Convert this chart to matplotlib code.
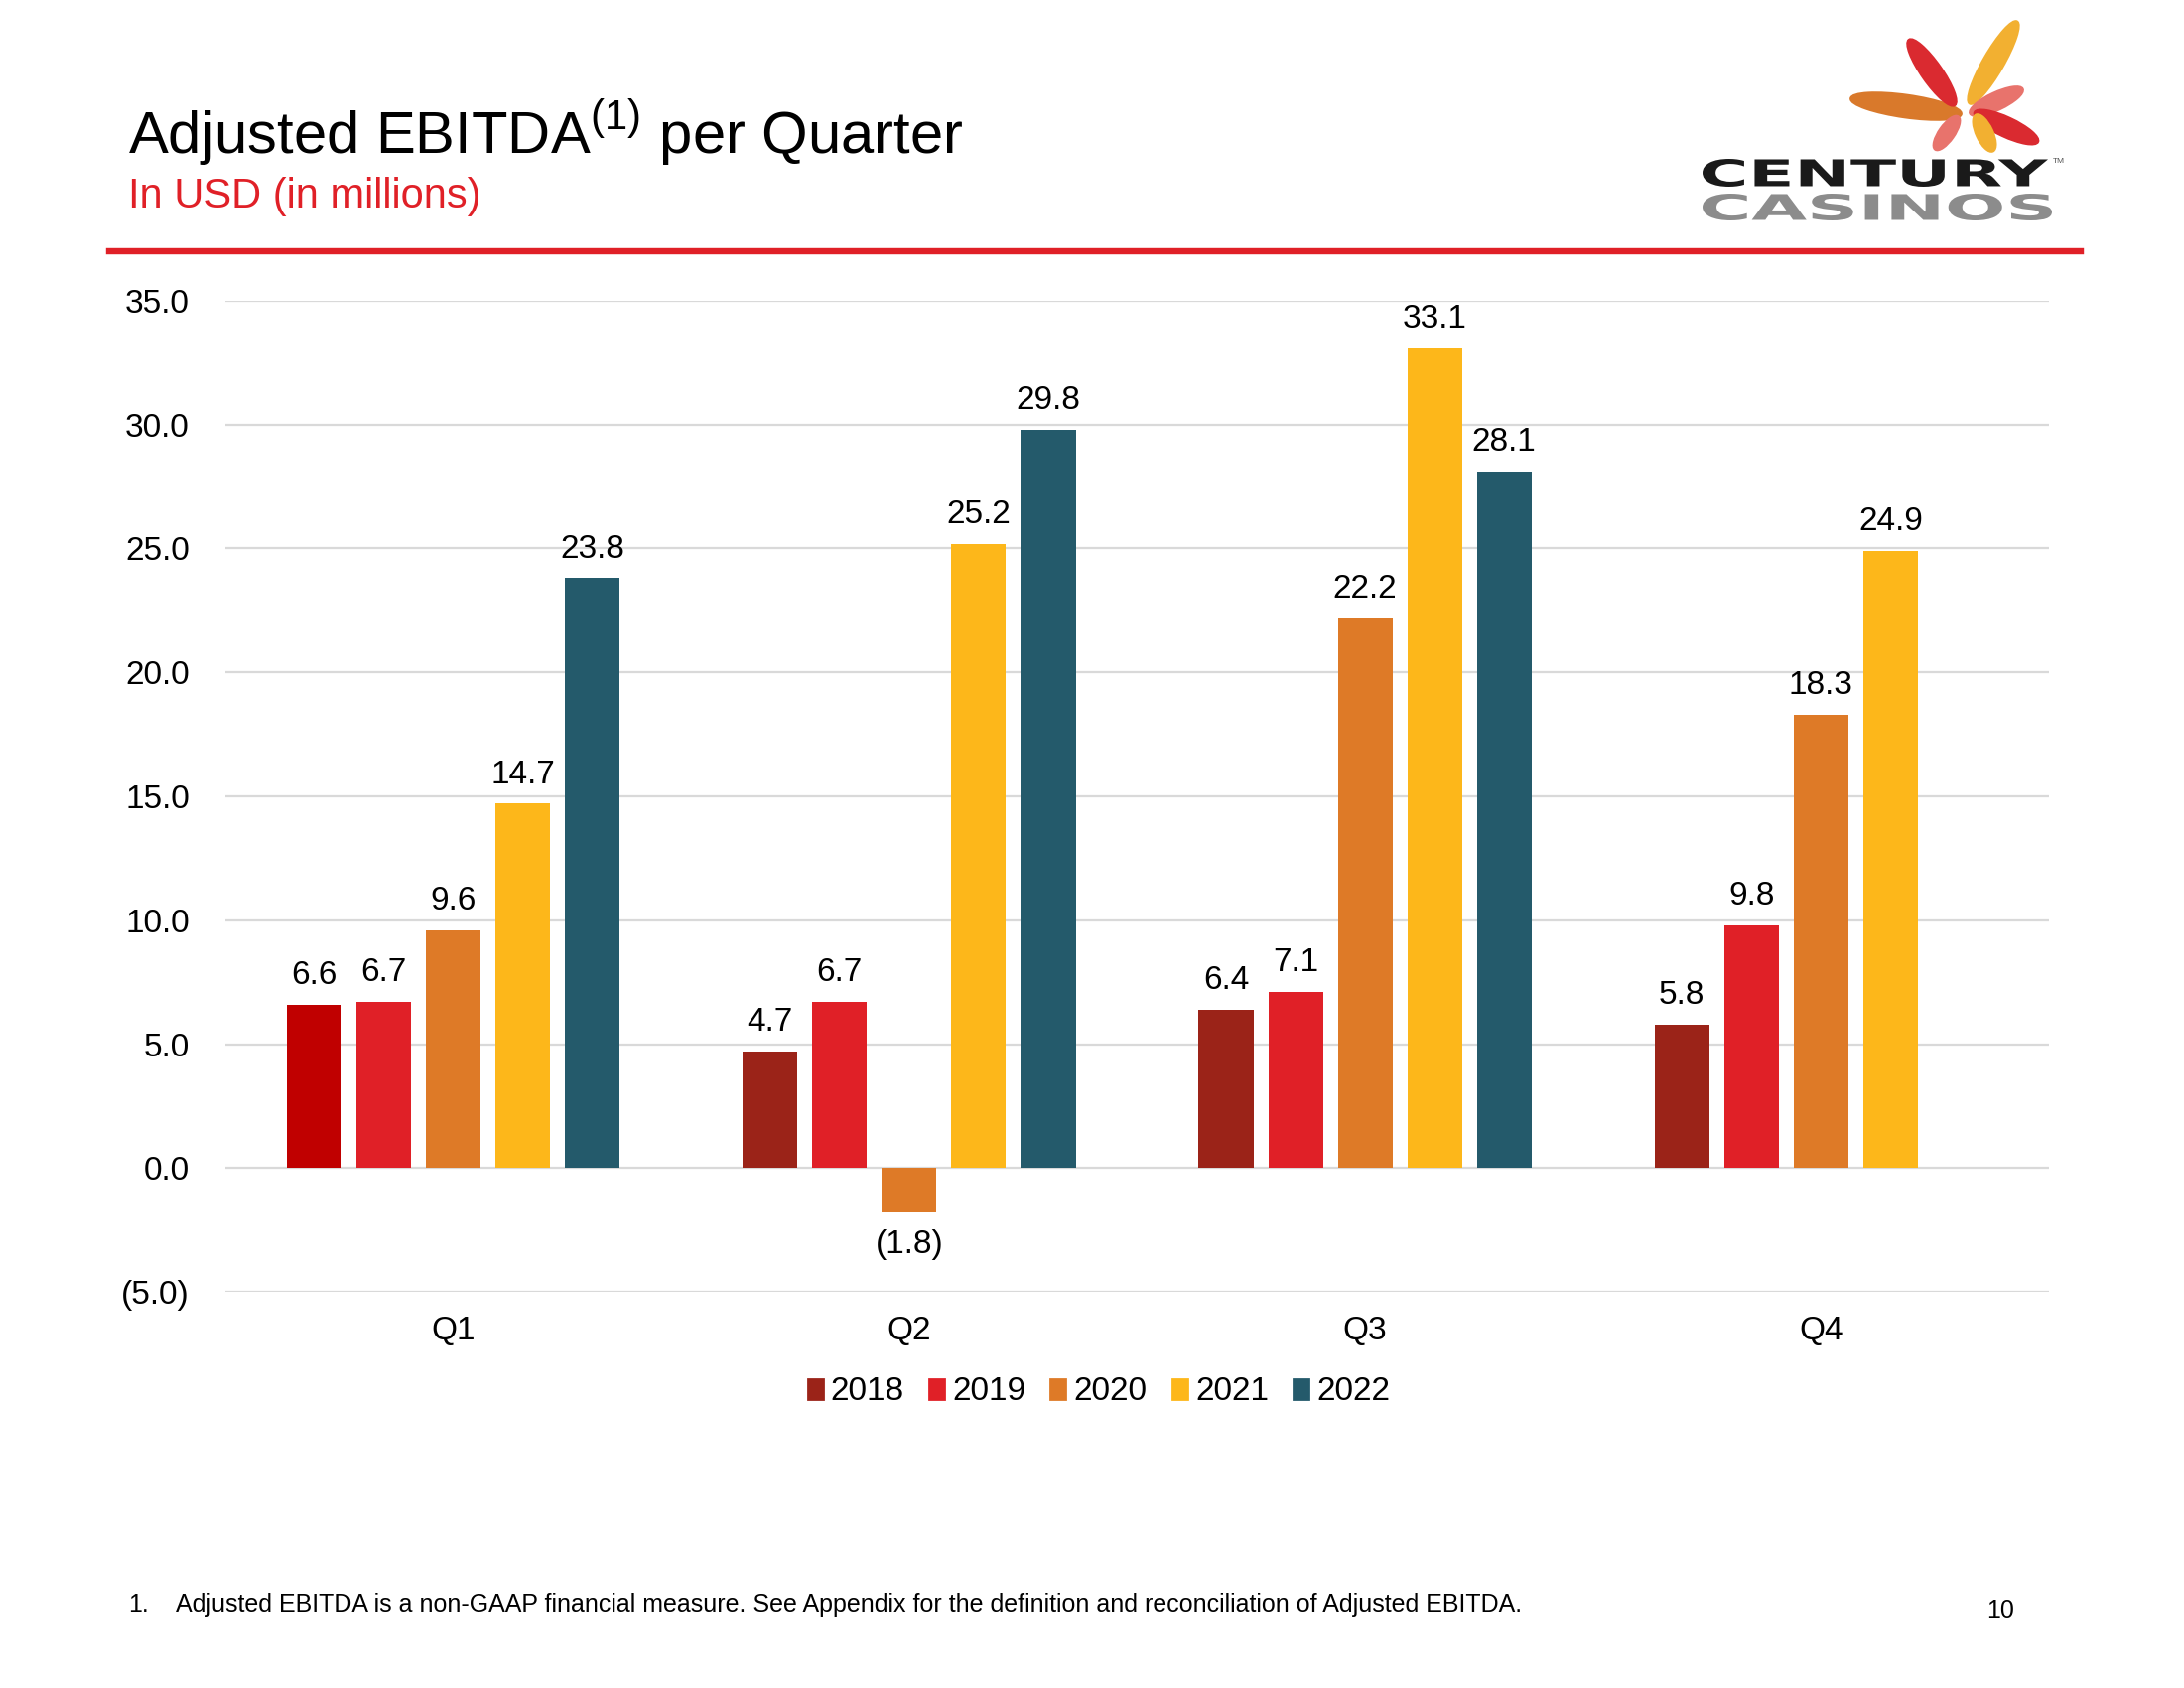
import matplotlib
matplotlib.use("Agg")
import matplotlib.pyplot as plt
import numpy as np
from matplotlib.patches import Ellipse, PathPatch, Patch
from matplotlib.textpath import TextPath
from matplotlib.font_manager import FontProperties
from matplotlib.transforms import Affine2D

plt.rcParams['font.family'] = ['Liberation Sans', 'DejaVu Sans']

# Data
quarters = ["Q1", "Q2", "Q3", "Q4"]
years = ["2018", "2019", "2020", "2021", "2022"]
ebitda = {
    "2018": [6.6, 4.7, 6.4, 5.8],
    "2019": [6.7, 6.7, 7.1, 9.8],
    "2020": [9.6, -1.8, 22.2, 18.3],
    "2021": [14.7, 25.2, 33.1, 24.9],
    "2022": [23.8, 29.8, 28.1, np.nan],
}
colors = ["#9B2318", "#E02027", "#DE7A27", "#FDB71A", "#245A6B"]
q1_2018_color = "#C00000"
yticks = [-5, 0, 5, 10, 15, 20, 25, 30, 35]

W, H = 2200, 1700
fig = plt.figure(figsize=(11, 8.5), dpi=200)

def fx(px):
    return px / W

def fy(py):
    return 1 - py / H

# header
fig.text(fx(129), fy(154), r"Adjusted EBITDA$^{\mathregular{(1)}}$ per Quarter", fontsize=21.5,
         color="black", ha="left", va="baseline")
fig.text(fx(129), fy(209), "In USD (in millions)", fontsize=15, color="#E02027",
         ha="left", va="baseline")
fig.add_artist(plt.Line2D([fx(110), fx(2096)], [fy(253), fy(253)], color="#E02027", lw=2.3))

# logo petals (approximation)
petals = [
    # (cx, cy, length, width, angle_deg, color)
    (1920, 107, 112, 22, -8, "#D9792B"),
    (1946, 73, 80, 20, -55, "#DA2A30"),
    (2008, 63, 95, 20, 60, "#F2B031"),
    (2011, 102, 58, 17, 25, "#E8736C"),
    (2021, 128, 70, 19, -25, "#DA2A30"),
    (1999, 134, 40, 16, -65, "#F2B031"),
    (1961, 134, 40, 15, 55, "#E8736C"),
]
for cx, cy, ln, wd, ang, c in petals:
    e = Ellipse((cx, H - cy), width=ln, height=wd, angle=ang, color=c,
                transform=Affine2D().scale(1 / W, 1 / H) + fig.transFigure)
    fig.add_artist(e)

def boxed_text(s, x0, y0, x1, y1, color):
    tp = TextPath((0, 0), s, size=10, prop=FontProperties(family="DejaVu Sans", weight="bold"))
    ext = tp.get_extents()
    sx = (x1 - x0) / ext.width
    sy = (y1 - y0) / ext.height
    tr = (Affine2D().translate(-ext.x0, -ext.y0).scale(sx, sy)
          .translate(x0, H - y1).scale(1 / W, 1 / H) + fig.transFigure)
    fig.add_artist(PathPatch(tp, color=color, lw=0, transform=tr))

boxed_text("CENTURY", 1715, 160, 2063, 188, "#1A1A1A")
boxed_text("CASINOS", 1715, 195, 2067, 222, "#8C8C8C")
fig.text(fx(2068), fy(162), "TM", fontsize=3, color="#555555", ha="left", va="center")

# chart
ax = fig.add_axes([fx(227), fy(1301), fx(2064) - fx(227), fy(303) - fy(1301)])
x = np.arange(len(quarters))
step = 0.1525
bw = 0.12
for i, yr in enumerate(years):
    vals = np.array(ebitda[yr], dtype=float)
    pos = x + (i - 2) * step
    cols = [colors[i]] * len(vals)
    if yr == "2018":
        cols[0] = q1_2018_color
    ax.bar(pos, vals, width=bw, color=cols, zorder=3)
    for p, v in zip(pos, vals):
        if np.isnan(v):
            continue
        if v >= 0:
            lbl = f"{v:.1f}"
            off = 10.5
        else:
            lbl = f"({abs(v):.1f})"
            off = -11.5
        ax.annotate(lbl, (p, v), xytext=(0, off), textcoords="offset points",
                    ha="center", va="center", fontsize=12, color="black")

ax.set_xlim(-0.5, len(quarters) - 0.5)
ax.set_ylim(-5, 35)
ax.set_yticks(yticks)
ax.set_yticklabels([f"({abs(t):.1f})" if t < 0 else f"{t:.1f}" for t in yticks], fontsize=12)
ax.set_xticks(x)
ax.set_xticklabels(quarters, fontsize=12)
ax.tick_params(axis="both", length=0)
ax.tick_params(axis="y", pad=13)
ax.tick_params(axis="x", pad=8.5)
ax.grid(axis="y", color="#D9D9D9", lw=0.8, zorder=0)
for s in ax.spines.values():
    s.set_visible(False)

handles = [Patch(color=c) for c in colors]
fig.legend(handles, years, loc="center", bbox_to_anchor=(fx(1107), fy(1402)), ncol=5,
           frameon=False, fontsize=12, handlelength=0.45, handleheight=0.55,
           handletextpad=0.25, columnspacing=0.75)

# footer
fig.text(fx(129), fy(1616), "1.", fontsize=9, ha="left", va="center")
fig.text(fx(177), fy(1616),
         "Adjusted EBITDA is a non-GAAP financial measure. See Appendix for the definition and reconciliation of Adjusted EBITDA.",
         fontsize=9, ha="left", va="center")
fig.text(fx(2015), fy(1622), "10", fontsize=9, ha="center", va="center")

fig.savefig("out.png", dpi=200)
